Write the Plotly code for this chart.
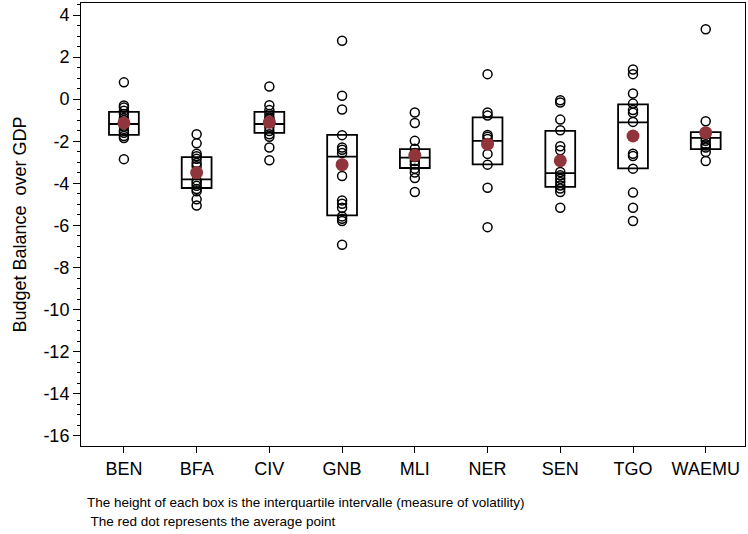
import plotly.graph_objects as go

countries = ["BEN", "BFA", "CIV", "GNB", "MLI", "NER", "SEN", "TGO", "WAEMU"]

values = {
    "BEN": [0.8, -0.3, -0.4, -0.55, -0.7, -0.9, -1.0, -1.1, -1.2, -1.3, -1.5, -1.6, -1.75, -1.85, -2.85],
    "BFA": [-1.67, -2.10, -2.59, -2.71, -2.83, -3.03, -3.19, -3.86, -3.98, -4.11, -4.27, -4.38, -4.76, -5.05],
    "CIV": [0.60, -0.29, -0.52, -0.71, -0.87, -0.95, -1.05, -1.32, -1.51, -1.67, -1.79, -2.30, -2.90],
    "GNB": [2.78, 0.16, -0.49, -1.71, -2.30, -2.40, -2.56, -3.65, -4.81, -4.97, -5.16, -5.57, -5.68, -5.79, -6.92],
    "MLI": [-0.63, -1.13, -1.98, -2.35, -2.56, -2.75, -2.94, -3.10, -3.30, -3.49, -3.75, -4.41],
    "NER": [1.19, -0.63, -0.78, -1.70, -1.79, -1.89, -2.60, -3.11, -4.21, -6.08],
    "SEN": [-0.05, -0.16, -0.97, -1.48, -2.24, -2.43, -3.46, -3.62, -3.78, -3.94, -4.10, -4.25, -4.41, -5.16],
    "TGO": [1.41, 1.19, 0.27, -0.21, -0.52, -0.65, -1.08, -2.59, -2.70, -3.30, -4.44, -5.16, -5.79],
    "WAEMU": [3.32, -1.05, -1.68, -1.84, -1.98, -2.14, -2.20, -2.30, -2.51, -2.94],
}

q1 = [-1.70, -4.22, -1.60, -5.52, -3.27, -3.10, -4.17, -3.29, -2.37]
median = [-1.18, -3.81, -1.18, -2.73, -2.78, -1.98, -3.51, -1.10, -1.84]
q3 = [-0.60, -2.75, -0.60, -1.70, -2.37, -0.86, -1.51, -0.25, -1.57]
mean = [-1.13, -3.49, -1.10, -3.11, -2.67, -2.14, -2.92, -1.75, -1.59]

y_tickvals = [4, 2, 0, -2, -4, -6, -8, -10, -12, -14, -16]
y_ticktext = ["4", "2", "0", "-2", "-4", "-6", "-8", "-10", "-12", "-14", "-16"]

positions = list(range(1, len(countries) + 1))

fig = go.Figure()

fig.add_trace(go.Box(
    x=positions, q1=q1, median=median, q3=q3,
    lowerfence=q1, upperfence=q3,
    width=0.41, whiskerwidth=0,
    line=dict(color="black", width=1.8),
    fillcolor="rgba(0,0,0,0)",
    boxpoints=False, showlegend=False, hoverinfo="skip",
))

for i, c in enumerate(countries):
    fig.add_trace(go.Scatter(
        x=[positions[i]] * len(values[c]), y=values[c], mode="markers",
        marker=dict(symbol="circle-open", size=9, color="black", line=dict(width=1.5, color="black")),
        showlegend=False, hoverinfo="skip",
    ))

fig.add_trace(go.Scatter(
    x=positions, y=mean, mode="markers",
    marker=dict(symbol="circle", size=13, color="rgb(144,53,59)"),
    showlegend=False, hoverinfo="skip",
))

fig.update_layout(
    width=748, height=534,
    margin=dict(l=81, r=3, t=3, b=88),
    paper_bgcolor="white", plot_bgcolor="white",
    font=dict(family="Liberation Sans, Arial, sans-serif", color="black", size=18),
    xaxis=dict(
        range=[0.41, 9.54], tickmode="array", tickvals=positions, ticktext=countries,
        ticks="outside", ticklen=6, tickcolor="black", tickangle=0,
        showline=True, linecolor="black", linewidth=1, mirror=True,
        showgrid=False, zeroline=False, tickfont=dict(size=18),
    ),
    yaxis=dict(
        range=[-16.48, 4.57], tickmode="array", tickvals=y_tickvals, ticktext=y_ticktext,
        ticks="outside", ticklen=7, tickcolor="black",
        minor=dict(tickmode="linear", tick0=0, dtick=0.5, ticks="outside", ticklen=3, tickcolor="black"),
        showline=True, linecolor="black", linewidth=1, mirror=True,
        showgrid=False, zeroline=False, tickfont=dict(size=18),
        title=dict(text="Budget Balance  over GDP", font=dict(size=18), standoff=12),
    ),
    annotations=[
        dict(text="The height of each box is the interquartile intervalle (measure of volatility)",
             xref="paper", yref="paper", x=0.006, y=-0.107, xanchor="left", yanchor="top",
             showarrow=False, font=dict(size=13.5)),
        dict(text=" The red dot represents the average point",
             xref="paper", yref="paper", x=0.006, y=-0.148, xanchor="left", yanchor="top",
             showarrow=False, font=dict(size=13.5)),
    ],
)

fig.write_html("out.html", config={"displayModeBar": False},
               post_script="document.body.style.margin='0';document.body.style.padding='0';")
